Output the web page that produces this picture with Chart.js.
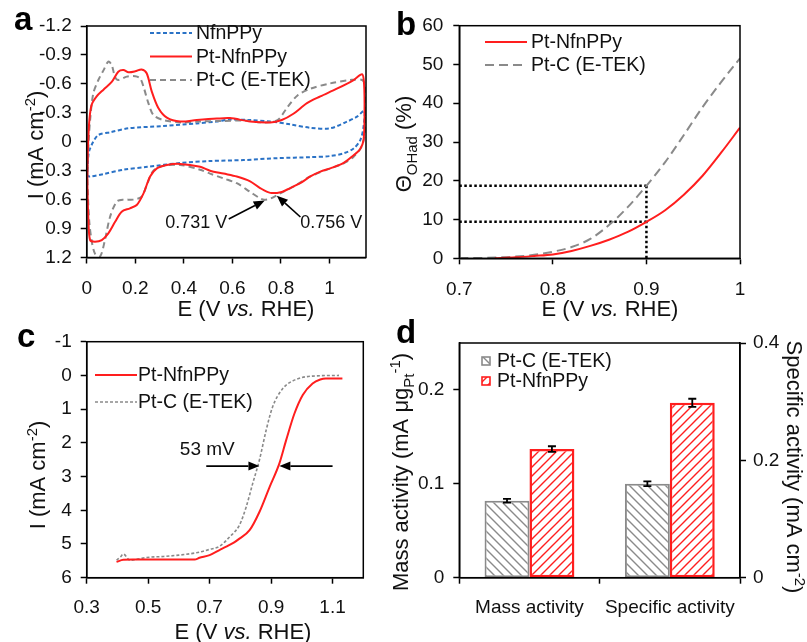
<!DOCTYPE html>
<html lang="en">
<head>
<meta charset="UTF-8">
<title>Pt-NfnPPy vs Pt-C (E-TEK)</title>
<style>
  body { margin: 0; background: #fff; }
  #wrap { position: relative; width: 807px; height: 642px; }
  #wrap canvas { position: absolute; left: 0; top: 0; }
</style>
<script src="https://cdn.jsdelivr.net/npm/chart.js@4.4.1/dist/chart.umd.min.js"></script>
</head>
<body>
<div id="wrap">
  <canvas id="cvA" width="807" height="642"></canvas>
  <canvas id="cvB" width="807" height="642"></canvas>
  <canvas id="cvC" width="807" height="642"></canvas>
  <canvas id="cvD" width="807" height="642"></canvas>
</div>
<script>
// ---- (a) cyclic voltammograms, E in V, I in mA cm-2 ----
const cvNfnE = [0.003, 0.008, 0.014, 0.027, 0.048, 0.100, 0.172, 0.316, 0.453, 0.535, 0.590, 0.673, 0.756, 0.838, 0.921, 1.003, 1.073, 1.113, 1.143, 1.140, 1.127, 1.099, 1.058, 1.003, 0.921, 0.786, 0.645, 0.508, 0.385, 0.250, 0.151, 0.069, 0.014, 0.003, 0.003];
const cvNfnI = [0.30, 0.12, 0.07, 0.00, -0.07, -0.10, -0.14, -0.163, -0.19, -0.21, -0.23, -0.225, -0.21, -0.18, -0.145, -0.14, -0.21, -0.26, -0.32, -0.16, -0.02, 0.07, 0.12, 0.148, 0.16, 0.17, 0.19, 0.20, 0.22, 0.26, 0.29, 0.335, 0.36, 0.35, 0.30];
const cvPtNE = [0.003, 0.006, 0.011, 0.020, 0.041, 0.069, 0.103, 0.130, 0.151, 0.172, 0.200, 0.226, 0.247, 0.268, 0.295, 0.330, 0.385, 0.453, 0.536, 0.590, 0.673, 0.756, 0.803, 0.851, 0.907, 0.962, 1.030, 1.099, 1.134, 1.142, 1.144, 1.140, 1.125, 1.099, 1.058, 1.003, 0.962, 0.921, 0.879, 0.838, 0.803, 0.756, 0.714, 0.673, 0.618, 0.563, 0.508, 0.467, 0.385, 0.330, 0.289, 0.261, 0.234, 0.206, 0.178, 0.144, 0.117, 0.089, 0.062, 0.034, 0.014, 0.007, 0.003, 0.003];
const cvPtNI = [0.30, 0.00, -0.225, -0.38, -0.47, -0.54, -0.62, -0.725, -0.743, -0.72, -0.73, -0.75, -0.71, -0.52, -0.35, -0.25, -0.21, -0.225, -0.24, -0.245, -0.21, -0.20, -0.225, -0.29, -0.40, -0.47, -0.55, -0.64, -0.70, -0.60, -0.30, -0.02, 0.08, 0.14, 0.22, 0.276, 0.31, 0.36, 0.43, 0.48, 0.52, 0.53, 0.48, 0.41, 0.36, 0.33, 0.30, 0.26, 0.23, 0.24, 0.276, 0.36, 0.535, 0.656, 0.69, 0.725, 0.83, 0.95, 1.02, 1.036, 1.02, 0.81, 0.47, 0.30];
const cvPtCE = [0.003, 0.008, 0.014, 0.027, 0.048, 0.069, 0.089, 0.103, 0.117, 0.130, 0.165, 0.200, 0.220, 0.234, 0.254, 0.275, 0.316, 0.385, 0.467, 0.550, 0.650, 0.730, 0.786, 0.827, 0.868, 0.921, 1.003, 1.085, 1.134, 1.148, 1.148, 1.134, 1.099, 1.058, 1.003, 0.921, 0.851, 0.797, 0.756, 0.731, 0.714, 0.673, 0.618, 0.563, 0.508, 0.467, 0.385, 0.316, 0.275, 0.250, 0.226, 0.192, 0.151, 0.124, 0.096, 0.075, 0.055, 0.034, 0.020, 0.010, 0.003, 0.003];
const cvPtCI = [0.30, 0.00, -0.225, -0.50, -0.64, -0.74, -0.83, -0.795, -0.67, -0.64, -0.675, -0.68, -0.657, -0.57, -0.40, -0.277, -0.225, -0.20, -0.21, -0.215, -0.22, -0.20, -0.225, -0.36, -0.48, -0.55, -0.605, -0.64, -0.64, -0.57, -0.16, 0.04, 0.155, 0.224, 0.276, 0.36, 0.466, 0.535, 0.59, 0.60, 0.587, 0.52, 0.43, 0.38, 0.33, 0.29, 0.24, 0.25, 0.30, 0.43, 0.57, 0.60, 0.60, 0.62, 0.78, 1.02, 1.19, 1.16, 1.02, 0.81, 0.40, 0.30];
const cvTicksE = [0, 0.2, 0.4, 0.6, 0.8, 1];
const cvTicksI = [-1.2, -0.9, -0.6, -0.3, 0, 0.3, 0.6, 0.9, 1.2];

// ---- (b) OH coverage, % ----
const thPtNE = [0.738, 0.76, 0.78, 0.80, 0.82, 0.84, 0.86, 0.88, 0.90, 0.92, 0.94, 0.96, 0.98, 1.00];
const thPtNV = [0, 0.25, 0.6, 1.0, 1.9, 3.2, 4.8, 6.8, 9.4, 12.4, 16.4, 21.3, 27.3, 33.7];
const thPtCE = [0.70, 0.75, 0.78, 0.80, 0.82, 0.84, 0.864, 0.88, 0.90, 0.92, 0.94, 0.96, 0.98, 1.00];
const thPtCV = [0, 0.3, 0.9, 1.7, 2.9, 5.0, 9.4, 13.2, 18.7, 24.8, 31.8, 39.0, 45.5, 51.6];
const guideE = [0.7, 0.9];
const guideTheta = [18.7, 9.4];
const thTicksE = [0.7, 0.8, 0.9, 1];
const thTicksV = [0, 10, 20, 30, 40, 50, 60];

// ---- (c) ORR polarization curves ----
const orrPtNE = [0.397, 0.419, 0.45, 0.495, 0.55, 0.60, 0.651, 0.667, 0.70, 0.732, 0.754, 0.78, 0.797, 0.83, 0.862, 0.895, 0.927, 0.949, 0.976, 1.003, 1.035, 1.06, 1.078, 1.132];
const orrPtNI = [5.53, 5.47, 5.46, 5.46, 5.46, 5.46, 5.46, 5.41, 5.33, 5.18, 5.08, 4.95, 4.84, 4.59, 4.05, 3.31, 2.61, 1.92, 1.13, 0.58, 0.24, 0.12, 0.09, 0.09];
const orrPtCE = [0.397, 0.41, 0.419, 0.441, 0.495, 0.55, 0.60, 0.657, 0.70, 0.732, 0.765, 0.797, 0.819, 0.84, 0.862, 0.884, 0.905, 0.938, 0.981, 1.035, 1.121];
const orrPtCI = [5.48, 5.38, 5.30, 5.48, 5.40, 5.37, 5.33, 5.26, 5.16, 5.07, 4.79, 4.44, 3.90, 3.21, 2.51, 1.62, 0.93, 0.39, 0.12, 0.02, 0.00];
const orrTicksE = [0.3, 0.5, 0.7, 0.9, 1.1];
const orrTicksI = [-1, 0, 1, 2, 3, 4, 5, 6];

// ---- (d) activities: [Pt-C (E-TEK), Pt-NfnPPy] ----
const actCats = ['Mass activity', 'Specific activity'];
const actSeries = ['Pt-C (E-TEK)', 'Pt-NfnPPy'];
const massAct = [0.082, 0.137];
const massErr = [0.002, 0.003];
const specAct = [0.16, 0.298];
const specErr = [0.004, 0.007];
const massTicks = [0, 0.1, 0.2];
const specTicks = [0, 0.2, 0.4];

const FONT = "'Liberation Sans', Arial, Helvetica, sans-serif";
const RED = '#ff1e1e', GRAY = '#8a8a8a', BLUE = '#2a72c6', INK = '#111';
Chart.defaults.font.family = FONT;
Chart.defaults.color = INK;
Chart.defaults.animation = false;
Chart.defaults.plugins.legend.display = false;
Chart.defaults.plugins.tooltip.enabled = false;

const pts = (xs, ys) => xs.map((x, i) => ({x: x, y: ys[i]}));

function axis(pos, min, max, ticks, size, pad, extra) {
  const horiz = pos === 'bottom';
  return Object.assign({
    type: 'linear', position: pos, min: min, max: max,
    afterBuildTicks: s => { s.ticks = ticks.map(v => ({value: v})); },
    afterFit: s => { if (horiz) s.height = size; else s.width = size; },
    ticks: { color: INK, font: {size: 19}, padding: pad, callback: v => String(v) },
    grid: { drawOnChartArea: false, drawTicks: true, tickLength: 6, tickWidth: 1.5, tickColor: '#000' },
    border: { display: true, color: '#000', width: 1.5 }
  }, extra || {});
}

function hatch(color, up) {
  const c = document.createElement('canvas');
  c.width = c.height = 9;
  const g = c.getContext('2d');
  g.fillStyle = '#fff'; g.fillRect(0, 0, 9, 9);
  g.strokeStyle = color; g.lineWidth = 1.4;
  g.beginPath();
  if (up) { g.moveTo(0, 9); g.lineTo(9, 0); g.moveTo(-1, 1); g.lineTo(1, -1); g.moveTo(8, 10); g.lineTo(10, 8); }
  else { g.moveTo(0, 0); g.lineTo(9, 9); g.moveTo(-1, 8); g.lineTo(1, 10); g.moveTo(8, -1); g.lineTo(10, 1); }
  g.stroke();
  return g.createPattern(c, 'repeat');
}

// text with italic / sub / sup pieces, centred on (x, y)
function drawRich(ctx, parts, x, y, rot, size) {
  ctx.save();
  ctx.translate(x, y); ctx.rotate(rot);
  const fonts = parts.map(p => {
    const s = (p[1] === 'sub' || p[1] === 'sup') ? size * 0.68 : size;
    return (p[1] === 'i' ? 'italic ' : '') + s + 'px ' + FONT;
  });
  let w = 0;
  parts.forEach((p, i) => { ctx.font = fonts[i]; w += ctx.measureText(p[0]).width; });
  let cx = -w / 2;
  ctx.fillStyle = INK; ctx.textAlign = 'left'; ctx.textBaseline = 'alphabetic';
  parts.forEach((p, i) => {
    ctx.font = fonts[i];
    const dy = p[1] === 'sub' ? size * 0.28 : p[1] === 'sup' ? -size * 0.38 : 0;
    ctx.fillText(p[0], cx, size * 0.36 + dy);
    cx += ctx.measureText(p[0]).width;
  });
  ctx.restore();
}

function arrow(ctx, x1, y1, x2, y2) {
  const a = Math.atan2(y2 - y1, x2 - x1), L = 11, W = 4.5;
  ctx.beginPath(); ctx.moveTo(x1, y1); ctx.lineTo(x2 - L * Math.cos(a), y2 - L * Math.sin(a)); ctx.stroke();
  ctx.beginPath();
  ctx.moveTo(x2, y2);
  ctx.lineTo(x2 - L * Math.cos(a) + W * Math.sin(a), y2 - L * Math.sin(a) - W * Math.cos(a));
  ctx.lineTo(x2 - L * Math.cos(a) - W * Math.sin(a), y2 - L * Math.sin(a) + W * Math.cos(a));
  ctx.closePath(); ctx.fill();
}

function deco(cfg) {
  return {
    id: 'deco',
    afterDraw(chart) {
      const ctx = chart.ctx, a = chart.chartArea;
      const sx = chart.scales.x, sy = chart.scales.y;
      ctx.save();
      ctx.strokeStyle = '#000'; ctx.lineWidth = 1.5;
      ctx.strokeRect(a.left, a.top, a.right - a.left, a.bottom - a.top);

      ctx.fillStyle = '#000'; ctx.font = 'bold 33px ' + FONT;
      ctx.textAlign = 'left'; ctx.textBaseline = 'alphabetic';
      ctx.fillText(cfg.letter[0], cfg.letter[1], cfg.letter[2]);

      cfg.titles.forEach(t => drawRich(ctx, t.parts, t.x, t.y, t.rot || 0, t.size || 22));

      ctx.fillStyle = '#000'; ctx.strokeStyle = '#000'; ctx.lineWidth = 1.6;
      (cfg.arrows || []).forEach(r => arrow(ctx, sx.getPixelForValue(r[0]), sy.getPixelForValue(r[1]),
                                            sx.getPixelForValue(r[2]), sy.getPixelForValue(r[3])));
      ctx.fillStyle = INK; ctx.textBaseline = 'middle';
      (cfg.notes || []).forEach(n => {
        ctx.font = n[3] + 'px ' + FONT;
        ctx.fillText(n[0], sx.getPixelForValue(n[1]), sy.getPixelForValue(n[2]));
      });

      // error bars from dataset.errs
      chart.data.datasets.forEach((ds, i) => {
        if (!ds.errs) return;
        const sc = chart.scales[ds.yAxisID];
        chart.getDatasetMeta(i).data.forEach((bar, j) => {
          const e = ds.errs[j];
          if (e == null || ds.data[j] == null) return;
          const y1 = sc.getPixelForValue(ds.data[j] + e), y2 = sc.getPixelForValue(ds.data[j] - e);
          ctx.strokeStyle = '#000'; ctx.lineWidth = 1.8;
          ctx.beginPath();
          ctx.moveTo(bar.x, y1); ctx.lineTo(bar.x, y2);
          ctx.moveTo(bar.x - 4, y1); ctx.lineTo(bar.x + 4, y1);
          ctx.moveTo(bar.x - 4, y2); ctx.lineTo(bar.x + 4, y2);
          ctx.stroke();
        });
      });

      const L = cfg.legend;
      L.items.forEach((di, k) => {
        const ds = chart.data.datasets[di];
        const y = L.y + k * L.gap;
        if (L.box) {
          ctx.fillStyle = ds.backgroundColor; ctx.fillRect(L.x, y - 4, 8, 8);
          ctx.strokeStyle = ds.borderColor; ctx.lineWidth = 1.6; ctx.strokeRect(L.x, y - 4, 8, 8);
        } else {
          ctx.strokeStyle = ds.borderColor; ctx.lineWidth = ds.borderWidth;
          ctx.setLineDash(ds.borderDash || []);
          ctx.beginPath(); ctx.moveTo(L.x, y); ctx.lineTo(L.x + L.len, y); ctx.stroke();
          ctx.setLineDash([]);
        }
        ctx.fillStyle = INK; ctx.font = '19.5px ' + FONT; ctx.textBaseline = 'middle';
        ctx.fillText(ds.label, L.tx, y + 1);
      });
      ctx.restore();
    }
  };
}

const line = (o) => Object.assign({showLine: true, pointRadius: 0, fill: false}, o);
const eTitle = [['E (V ', ''], ['vs.', 'i'], [' RHE)', '']];
const iTitle = [['I (mA cm', ''], ['-2', 'sup'], [')', '']];

// (a)
new Chart('cvA', {
  type: 'scatter',
  data: { datasets: [
    line({ label: 'NfnPPy', data: pts(cvNfnE, cvNfnI), borderColor: BLUE, borderDash: [4, 2.5], borderWidth: 2, tension: 0.3, order: 2 }),
    line({ label: 'Pt-NfnPPy', data: pts(cvPtNE, cvPtNI), borderColor: RED, borderWidth: 2, tension: 0.3, order: 0 }),
    line({ label: 'Pt-C (E-TEK)', data: pts(cvPtCE, cvPtCI), borderColor: GRAY, borderDash: [6, 4], borderWidth: 2, tension: 0.3, order: 1 })
  ] },
  options: {
    responsive: false, devicePixelRatio: 1,
    layout: { padding: { left: 0, top: 26, right: 441, bottom: 344.5 } },
    scales: {
      x: axis('bottom', 0, 1.15, cvTicksE, 40, 14),
      y: axis('left', -1.2, 1.2, cvTicksI, 86.7, 9, { reverse: true })
    }
  },
  plugins: [deco({
    letter: ['a', 14, 30],
    titles: [ { parts: eTitle, x: 246, y: 308 }, { parts: iTitle, x: 35, y: 145, rot: -Math.PI / 2 } ],
    arrows: [[0.585, 0.80, 0.733, 0.61], [0.88, 0.78, 0.783, 0.56]],
    notes: [['0.731 V', 0.323, 0.84, 18], ['0.756 V', 0.879, 0.84, 18]],
    legend: { items: [0, 1, 2], x: 150, len: 42, tx: 196, y: 33, gap: 23.5 }
  })]
});

// (b)
const dotted = (xs, ys) => line({ data: pts(xs, ys), borderColor: '#000', borderDash: [2.5, 2.5], borderWidth: 2.5, order: 3 });
new Chart('cvB', {
  type: 'scatter',
  data: { datasets: [
    line({ label: 'Pt-NfnPPy', data: pts(thPtNE, thPtNV), borderColor: RED, borderWidth: 2, cubicInterpolationMode: 'monotone', order: 0 }),
    line({ label: 'Pt-C (E-TEK)', data: pts(thPtCE, thPtCV), borderColor: GRAY, borderDash: [9, 5], borderWidth: 2, cubicInterpolationMode: 'monotone', order: 1 }),
    dotted(guideE, [guideTheta[0], guideTheta[0]]),
    dotted(guideE, [guideTheta[1], guideTheta[1]]),
    dotted([guideE[1], guideE[1]], [0, guideTheta[0]])
  ] },
  options: {
    responsive: false, devicePixelRatio: 1,
    layout: { padding: { left: 399.3, top: 25.7, right: 67, bottom: 343.7 } },
    scales: {
      x: axis('bottom', 0.7, 1, thTicksE, 40, 14),
      y: axis('left', 0, 60, thTicksV, 60, 10)
    }
  },
  plugins: [deco({
    letter: ['b', 396, 35],
    titles: [ { parts: eTitle, x: 610, y: 308 },
              { parts: [['\u0398', ''], ['OHad', 'sub'], [' (%)', '']], x: 403, y: 144, rot: -Math.PI / 2 } ],
    legend: { items: [0, 1], x: 485, len: 42, tx: 531, y: 42, gap: 23 }
  })]
});

// (c)
new Chart('cvC', {
  type: 'scatter',
  data: { datasets: [
    line({ label: 'Pt-NfnPPy', data: pts(orrPtNE, orrPtNI), borderColor: RED, borderWidth: 2, cubicInterpolationMode: 'monotone', order: 0 }),
    line({ label: 'Pt-C (E-TEK)', data: pts(orrPtCE, orrPtCI), borderColor: GRAY, borderDash: [3, 2], borderWidth: 1.6, cubicInterpolationMode: 'monotone', order: 1 })
  ] },
  options: {
    responsive: false, devicePixelRatio: 1,
    layout: { padding: { left: 26.7, top: 341.7, right: 443.7, bottom: 24.3 } },
    scales: {
      x: axis('bottom', 0.3, 1.2, orrTicksE, 40, 13),
      y: axis('left', -1, 6, orrTicksI, 60, 9, { reverse: true })
    }
  },
  plugins: [deco({
    letter: ['c', 17, 347],
    titles: [ { parts: eTitle, x: 243, y: 631 }, { parts: iTitle, x: 37, y: 475, rot: -Math.PI / 2 } ],
    arrows: [[0.689, 2.69, 0.862, 2.69], [1.1, 2.69, 0.927, 2.69]],
    notes: [['53 mV', 0.603, 2.22, 19]],
    legend: { items: [0, 1], x: 95, len: 42, tx: 138, y: 375, gap: 27 }
  })]
});

// (d)
const patGray = hatch(GRAY, false), patRed = hatch(RED, true);
const barSet = (k, vals, errs, axisId, slot) => ({
  label: actSeries[k],
  data: slot === 0 ? [vals[k], null] : [null, vals[k]],
  errs: slot === 0 ? [errs[k], null] : [null, errs[k]],
  yAxisID: axisId,
  backgroundColor: k === 0 ? patGray : patRed,
  borderColor: k === 0 ? GRAY : RED,
  borderWidth: k === 0 ? 2 : 2.5,
  borderSkipped: false, skipNull: true,
  categoryPercentage: 0.64, barPercentage: 1.0
});
new Chart('cvD', {
  type: 'bar',
  data: { labels: actCats, datasets: [
    barSet(0, massAct, massErr, 'y', 0), barSet(1, massAct, massErr, 'y', 0),
    barSet(0, specAct, specErr, 'y2', 1), barSet(1, specAct, specErr, 'y2', 1)
  ] },
  options: {
    responsive: false, devicePixelRatio: 1,
    layout: { padding: { left: 399.3, top: 343, right: 27, bottom: 24.3 } },
    scales: {
      x: { type: 'category', position: 'bottom', offset: true,
           afterFit: s => { s.height = 40; },
           ticks: { color: INK, font: {size: 19}, padding: 13, maxRotation: 0, autoSkip: false },
           grid: { offset: true, drawOnChartArea: false, drawTicks: true, tickLength: 6, tickWidth: 1.5, tickColor: '#000' },
           border: { display: true, color: '#000', width: 1.5 } },
      y: axis('left', 0, 0.25, massTicks, 60, 9),
      y2: axis('right', 0, 0.4, specTicks, 40, 7)
    }
  },
  plugins: [deco({
    letter: ['d', 396, 343],
    titles: [ { parts: [['Mass activity (mA \u03bcg', ''], ['Pt', 'sub'], ['-1', 'sup'], [')', '']], x: 400, y: 472, rot: -Math.PI / 2 },
              { parts: [['Specific activity (mA cm', ''], ['-2', 'sup'], [')', '']], x: 795, y: 467, rot: Math.PI / 2 } ],
    legend: { items: [0, 1], x: 482, tx: 497, y: 361, gap: 20, box: true }
  })]
});
</script>
</body>
</html>
